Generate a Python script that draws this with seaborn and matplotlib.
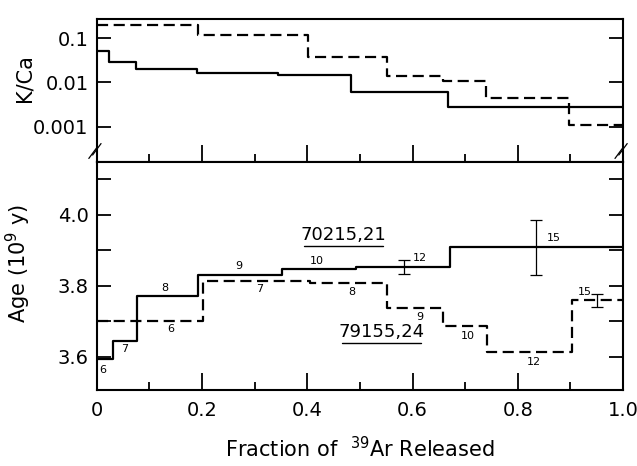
import numpy as np
import pandas as pd
import matplotlib
matplotlib.use('Agg')
import matplotlib.pyplot as plt
import seaborn as sns

# K/Ca spectra (top panel)
kca_edges_a = [0, 0.023, 0.074, 0.19, 0.344, 0.484, 0.667, 1.0]
kca_vals_a = [0.052, 0.0285, 0.020, 0.016, 0.0148, 0.0062, 0.00277]
kca_edges_b = [0, 0.192, 0.401, 0.551, 0.658, 0.739, 0.897, 1.0]
kca_vals_b = [0.196, 0.117, 0.038, 0.014, 0.0105, 0.0044, 0.0011]

# Age spectra (bottom panel)
age_edges_a = [0, 0.03, 0.077, 0.193, 0.351, 0.492, 0.672, 1.0]
age_vals_a = [3.595, 3.645, 3.772, 3.832, 3.847, 3.853, 3.908]
age_edges_b = [0, 0.201, 0.405, 0.552, 0.658, 0.742, 0.904, 1.0]
age_vals_b = [3.702, 3.813, 3.807, 3.737, 3.688, 3.613, 3.76]

# step numbers
steps_a = ['6', '7', '8', '9', '10', '12', '15']
steps_a_x = [0.012, 0.053, 0.129, 0.27, 0.418, 0.614, 0.869]
steps_a_y = [3.563, 3.622, 3.794, 3.856, 3.870, 3.878, 3.934]
steps_b = ['6', '7', '8', '9', '10', '12', '15']
steps_b_x = [0.14, 0.31, 0.484, 0.614, 0.705, 0.831, 0.928]
steps_b_y = [3.679, 3.791, 3.783, 3.713, 3.660, 3.587, 3.783]

# error bars
err_a_x = [0.584, 0.834]
err_a_y = [3.853, 3.908]
err_a_e = [0.02, 0.077]
err_b_x = [0.95]
err_b_y = [3.76]
err_b_e = [0.018]

name_a = '70215,21'
name_b = '79155,24'
name_a_pos = (0.468, 3.943)
name_b_pos = (0.541, 3.670)


def steps(edges, vals):
    return pd.DataFrame({'x': edges, 'y': list(vals) + [vals[-1]]})


sns.set_style('ticks')
plt.rcParams['font.family'] = ['DejaVu Sans']
plt.rcParams['axes.linewidth'] = 1.5
for k in ('text.color', 'axes.labelcolor', 'xtick.color', 'ytick.color', 'axes.edgecolor'):
    plt.rcParams[k] = 'black'

fig = plt.figure(figsize=(6.37, 4.66), dpi=100)
ax1 = fig.add_axes([0.152, 0.652, 0.826, 0.307])
ax2 = fig.add_axes([0.152, 0.163, 0.826, 0.489])

dash = (0, (5, 2.5))

# top panel
sns.lineplot(data=steps(kca_edges_a, kca_vals_a), x='x', y='y', ax=ax1, color='black',
             lw=1.6, drawstyle='steps-post', estimator=None, sort=False)
sns.lineplot(data=steps(kca_edges_b, kca_vals_b), x='x', y='y', ax=ax1, color='black',
             lw=1.6, linestyle=dash, drawstyle='steps-post', estimator=None, sort=False)
ax1.set_yscale('log')
ax1.set_ylim(1.6e-4, 0.267)
ax1.set_xlim(0, 1)
ax1.set_yticks([0.1, 0.01, 0.001])
ax1.set_yticklabels(['0.1', '0.01', '0.001'])
ax1.yaxis.set_minor_locator(matplotlib.ticker.NullLocator())
ax1.set_xticks(np.arange(0, 1.01, 0.2))
ax1.set_xticks(np.arange(0.1, 1.0, 0.2), minor=True)
ax1.tick_params(axis='x', which='both', direction='in', labelbottom=False)
ax1.tick_params(axis='x', which='major', length=12, width=1.3)
ax1.tick_params(axis='x', which='minor', length=6, width=1.3)
ax1.tick_params(axis='y', which='major', direction='in', length=10, width=1.3,
                right=True, labelsize=14, pad=6)
ax1.set_xlabel('')
ax1.set_ylabel('K/Ca', fontsize=15)
ax1.yaxis.set_label_coords(-0.118, 0.59)

# axis break marks
for xb in (0.0, 1.0):
    for off in (-0.012, 0.0):
        ax1.plot([xb - 0.008 + off * 0.6, xb + 0.008 + off * 0.6],
                 [0.05 + off * 2, 0.13 + off * 2], transform=ax1.transAxes,
                 color='black', lw=0.9, clip_on=False)

# bottom panel
sns.lineplot(data=steps(age_edges_a, age_vals_a), x='x', y='y', ax=ax2, color='black',
             lw=1.6, drawstyle='steps-post', estimator=None, sort=False)
sns.lineplot(data=steps(age_edges_b, age_vals_b), x='x', y='y', ax=ax2, color='black',
             lw=1.6, linestyle=dash, drawstyle='steps-post', estimator=None, sort=False)
ax2.errorbar(err_a_x, err_a_y, yerr=err_a_e, fmt='none', ecolor='black', elinewidth=0.9,
             capsize=4, capthick=0.9)
ax2.errorbar(err_b_x, err_b_y, yerr=err_b_e, fmt='none', ecolor='black', elinewidth=0.9,
             capsize=4, capthick=0.9)

for s, x, y in zip(steps_a, steps_a_x, steps_a_y):
    ax2.text(x, y, s, fontsize=8, ha='center', va='center')
for s, x, y in zip(steps_b, steps_b_x, steps_b_y):
    ax2.text(x, y, s, fontsize=8, ha='center', va='center')

for name, (x, y) in ((name_a, name_a_pos), (name_b, name_b_pos)):
    ax2.text(x, y, name, fontsize=13, ha='center', va='center')
    ax2.plot([x - 0.075, x + 0.075], [y - 0.032, y - 0.032], color='black', lw=1.0)

ax2.set_xlim(0, 1)
ax2.set_ylim(3.507, 4.148)
ax2.set_yticks(np.arange(3.6, 4.15, 0.1))
ax2.set_yticklabels(['3.6', '', '3.8', '', '4.0', ''])
ax2.set_xticks(np.arange(0, 1.01, 0.2))
ax2.set_xticklabels(['0', '0.2', '0.4', '0.6', '0.8', '1.0'])
ax2.set_xticks(np.arange(0.1, 1.0, 0.2), minor=True)
ax2.tick_params(axis='x', which='major', direction='in', length=12, width=1.3,
                labelsize=14, pad=8)
ax2.tick_params(axis='x', which='minor', direction='in', length=6, width=1.3)
ax2.tick_params(axis='y', which='major', direction='in', length=10, width=1.3,
                right=True, labelsize=14, pad=6)
ax2.set_xlabel('Fraction of  $^{39}$Ar Released', fontsize=15)
ax2.xaxis.set_label_coords(0.5, -0.2)
ax2.set_ylabel('Age (10$^9$ y)', fontsize=15)
ax2.yaxis.set_label_coords(-0.122, 0.557)

fig.savefig('out.png', dpi=100)
